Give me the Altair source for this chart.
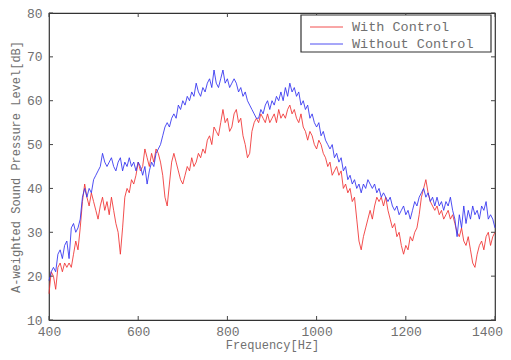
import altair as alt
import pandas as pd

freq = list(range(400, 1405, 5))

without_control = [
    19, 21, 22, 21, 25, 26, 24, 27, 28, 24,
    31, 32, 30, 31, 33, 38, 40, 38, 40, 39,
    42, 43, 44, 45, 48, 46, 45, 46, 47, 45,
    44, 46, 47, 44, 46, 45, 47, 45, 46, 44,
    46, 45, 43, 45, 41, 44, 46, 45, 48, 49,
    50, 52, 54, 55, 54, 56, 57, 56, 59, 58,
    60, 59, 61, 60, 62, 61, 64, 62, 61, 63,
    62, 64, 65, 63, 67, 64, 63, 65, 67, 64,
    65, 63, 64, 65, 64, 62, 63, 61, 62, 60,
    59, 58, 57, 56, 56, 58, 57, 59, 60, 58,
    60, 59, 61, 60, 62, 60, 63, 61, 64, 62,
    63, 61, 62, 59, 60, 58, 59, 56, 57, 55,
    54, 55, 52, 53, 51, 50, 49, 50, 47, 48,
    46, 47, 44, 45, 42, 43, 41, 42, 40, 41,
    39, 41, 40, 42, 41, 40, 41, 39, 40, 38,
    39, 38, 37, 38, 36, 35, 36, 34, 35, 36,
    34, 35, 33, 35, 37, 36, 38, 39, 40, 38,
    39, 37, 38, 36, 38, 36, 37, 35, 37, 36,
    38, 35, 33, 29, 34, 31, 36, 32, 35, 33,
    36, 34, 35, 33, 36, 35, 37, 33, 34, 33,
    31,
]

with_control = [
    16, 21, 20, 17, 22, 23, 21, 23, 22, 23,
    22, 25, 28, 26, 31, 37, 41, 38, 36, 39,
    37, 35, 33, 36, 38, 35, 37, 34, 38, 35,
    32, 30, 25, 31, 38, 40, 39, 42, 41, 43,
    46, 44, 45, 49, 47, 45, 48, 46, 49, 48,
    46, 43, 38, 36, 41, 46, 48, 46, 44, 42,
    41, 43, 45, 44, 47, 45, 46, 48, 47, 49,
    48, 51, 52, 50, 54, 53, 52, 55, 58, 55,
    56, 53, 54, 57, 58, 55, 56, 52, 50, 47,
    48, 53, 55, 56, 55, 57, 56, 55, 57, 55,
    56, 57, 55, 58, 56, 57, 56, 58, 59, 57,
    58, 56, 55, 57, 54, 53, 51, 53, 52, 50,
    49, 51, 50, 48, 47, 45, 46, 43, 44, 45,
    43, 44, 40, 41, 39, 40, 37, 38, 33, 28,
    26, 29, 31, 33, 35, 33, 36, 38, 37, 38,
    36, 38, 35, 33, 31, 32, 29, 30, 27, 25,
    27, 26, 29, 28, 30, 31, 34, 38, 40, 42,
    39, 37, 36, 35, 36, 34, 35, 33, 34, 35,
    33, 34, 32, 30, 29, 31, 28, 27, 29, 26,
    23, 22, 25, 27, 28, 26, 29, 30, 27, 29,
    30,
]

series_names = ["With Control", "Without Control"]
series_colors = ["#f03030", "#3030f0"]
x_ticks = [400, 600, 800, 1000, 1200, 1400]
y_ticks = [10, 20, 30, 40, 50, 60, 70, 80]

rows = []
for f, v in zip(freq, with_control):
    rows.append({"freq": f, "level": v, "series": series_names[0]})
for f, v in zip(freq, without_control):
    rows.append({"freq": f, "level": v, "series": series_names[1]})
df = pd.DataFrame(rows)

W, H = 446, 307
FONT = "Liberation Mono"
TXT = "#707070"

xscale = alt.Scale(domain=[400, 1400], nice=False, zero=False)
yscale = alt.Scale(domain=[10, 80], nice=False, zero=False)

x_axis = alt.Axis(values=x_ticks, format="d", title="Frequency[Hz]", grid=False,
                  domain=False, ticks=False, labelFont=FONT, labelFontSize=13,
                  labelColor=TXT, labelPadding=5, titleFont=FONT, titleFontSize=12,
                  titleColor=TXT, titleFontWeight="normal", titlePadding=1,
                  labelFlush=False,
                  labelOffset={"condition": {"test": "datum.value == 1400", "value": -8},
                               "value": 0})
y_axis = alt.Axis(values=y_ticks, title="A-weighted Sound Pressure Level[dB]", grid=False,
                  domain=False, ticks=False, labelFont=FONT, labelFontSize=13,
                  labelColor=TXT, labelPadding=7, titleFont=FONT, titleFontSize=12,
                  titleColor=TXT, titleFontWeight="normal", titlePadding=4,
                  labelFlush=False)

lines = alt.Chart(df).mark_line(strokeWidth=1, opacity=0.85).encode(
    x=alt.X("freq:Q", scale=xscale, axis=x_axis),
    y=alt.Y("level:Q", scale=yscale, axis=y_axis),
    color=alt.Color("series:N",
                    scale=alt.Scale(domain=series_names, range=series_colors),
                    legend=None),
)

xt = pd.DataFrame({"freq": x_ticks})
yt = pd.DataFrame({"level": y_ticks})
TC = "#444444"
tick_bottom = alt.Chart(xt).mark_rule(color=TC).encode(
    x=alt.X("freq:Q", scale=xscale), y=alt.value(H), y2=alt.value(H - 4))
tick_top = alt.Chart(xt).mark_rule(color=TC).encode(
    x=alt.X("freq:Q", scale=xscale), y=alt.value(0), y2=alt.value(4))
tick_left = alt.Chart(yt).mark_rule(color=TC).encode(
    y=alt.Y("level:Q", scale=yscale), x=alt.value(0), x2=alt.value(4))
tick_right = alt.Chart(yt).mark_rule(color=TC).encode(
    y=alt.Y("level:Q", scale=yscale), x=alt.value(W), x2=alt.value(W - 4))

# manual legend box
one = pd.DataFrame({"k": [0]})
leg_box = alt.Chart(one).mark_rect(fill="white", stroke="#333333", strokeWidth=1.2).encode(
    x=alt.value(252), x2=alt.value(442), y=alt.value(2), y2=alt.value(39))
leg_layers = [leg_box]
for i, (name, col) in enumerate(zip(series_names, series_colors)):
    ypix = 14 + 17 * i
    d = pd.DataFrame({"series": [name]})
    leg_layers.append(alt.Chart(d).mark_rule(color=col, strokeWidth=1, opacity=0.85).encode(
        x=alt.value(261), x2=alt.value(294), y=alt.value(ypix)))
    leg_layers.append(alt.Chart(d).mark_text(align="left", baseline="middle", font=FONT,
                                             fontSize=13.5, color=TXT).encode(
        x=alt.value(303), y=alt.value(ypix), text="series:N"))

chart = alt.layer(lines, tick_bottom, tick_top, tick_left, tick_right, *leg_layers).properties(
    width=W, height=H,
    autosize=alt.AutoSizeParams(type="none"),
    padding={"left": 41, "top": 5, "right": 8, "bottom": 32},
).configure_view(
    stroke="#333333", strokeWidth=1.2
)

chart.save("out.html", embed_options={"renderer": "svg", "actions": False})
